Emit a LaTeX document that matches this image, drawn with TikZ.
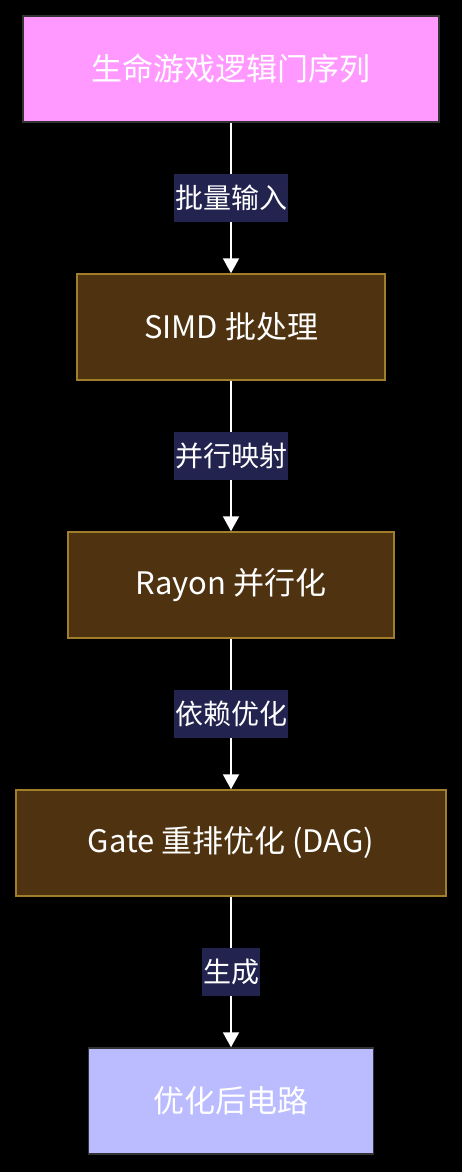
\documentclass[tikz,border=0pt]{standalone}
\usepackage{fontspec}
\setmainfont{Noto Sans CJK SC}
\usepackage{xcolor}
\usetikzlibrary{positioning, arrows.meta}

\definecolor{pinkfill}{HTML}{FF99FF}
\definecolor{lavfill}{HTML}{BBBBFF}
\definecolor{brownfill}{HTML}{4F3311}
\definecolor{browndraw}{HTML}{A07E2C}
\definecolor{greydraw}{HTML}{333333}
\definecolor{labelfill}{HTML}{232350}

\begin{document}
\begin{tikzpicture}[
    x=1pt, y=-1pt,
    node distance=150.5pt,
    stage/.style={rectangle, draw=browndraw, fill=brownfill, line width=1.5pt, minimum height=106pt, text=white, font=\fontsize{31}{36}\selectfont},
    source/.style={stage, draw=greydraw, fill=pinkfill},
    result/.style={stage, draw=greydraw, fill=lavfill},
    flow/.style={-{Triangle[width=16pt,length=15pt]}, draw=white, line width=2pt},
    tag/.style={fill=labelfill, text=white, inner sep=1pt, minimum height=48pt, font=\fontsize{28}{32}\selectfont}
]

% Background
\fill[black] (0,0) rectangle (462,1172);
\useasboundingbox (0,0) rectangle (462,1172);

% Nodes
\node[source, minimum width=416pt] (gates) at (231,69) {生命游戏逻辑门序列};
\node[stage, minimum width=308pt, below=of gates] (simd) {SIMD 批处理};
\node[stage, minimum width=326pt, below=of simd] (rayon) {Rayon 并行化};
\node[stage, minimum width=430pt, below=of rayon] (reorder) {Gate 重排优化 (DAG)};
\node[result, minimum width=285pt, below=of reorder] (circuit) {优化后电路};

% Edges
\draw[flow] (gates) -- node[tag] {批量输入} (simd);
\draw[flow] (simd) -- node[tag] {并行映射} (rayon);
\draw[flow] (rayon) -- node[tag] {依赖优化} (reorder);
\draw[flow] (reorder) -- node[tag] {生成} (circuit);

\end{tikzpicture}
\end{document}
